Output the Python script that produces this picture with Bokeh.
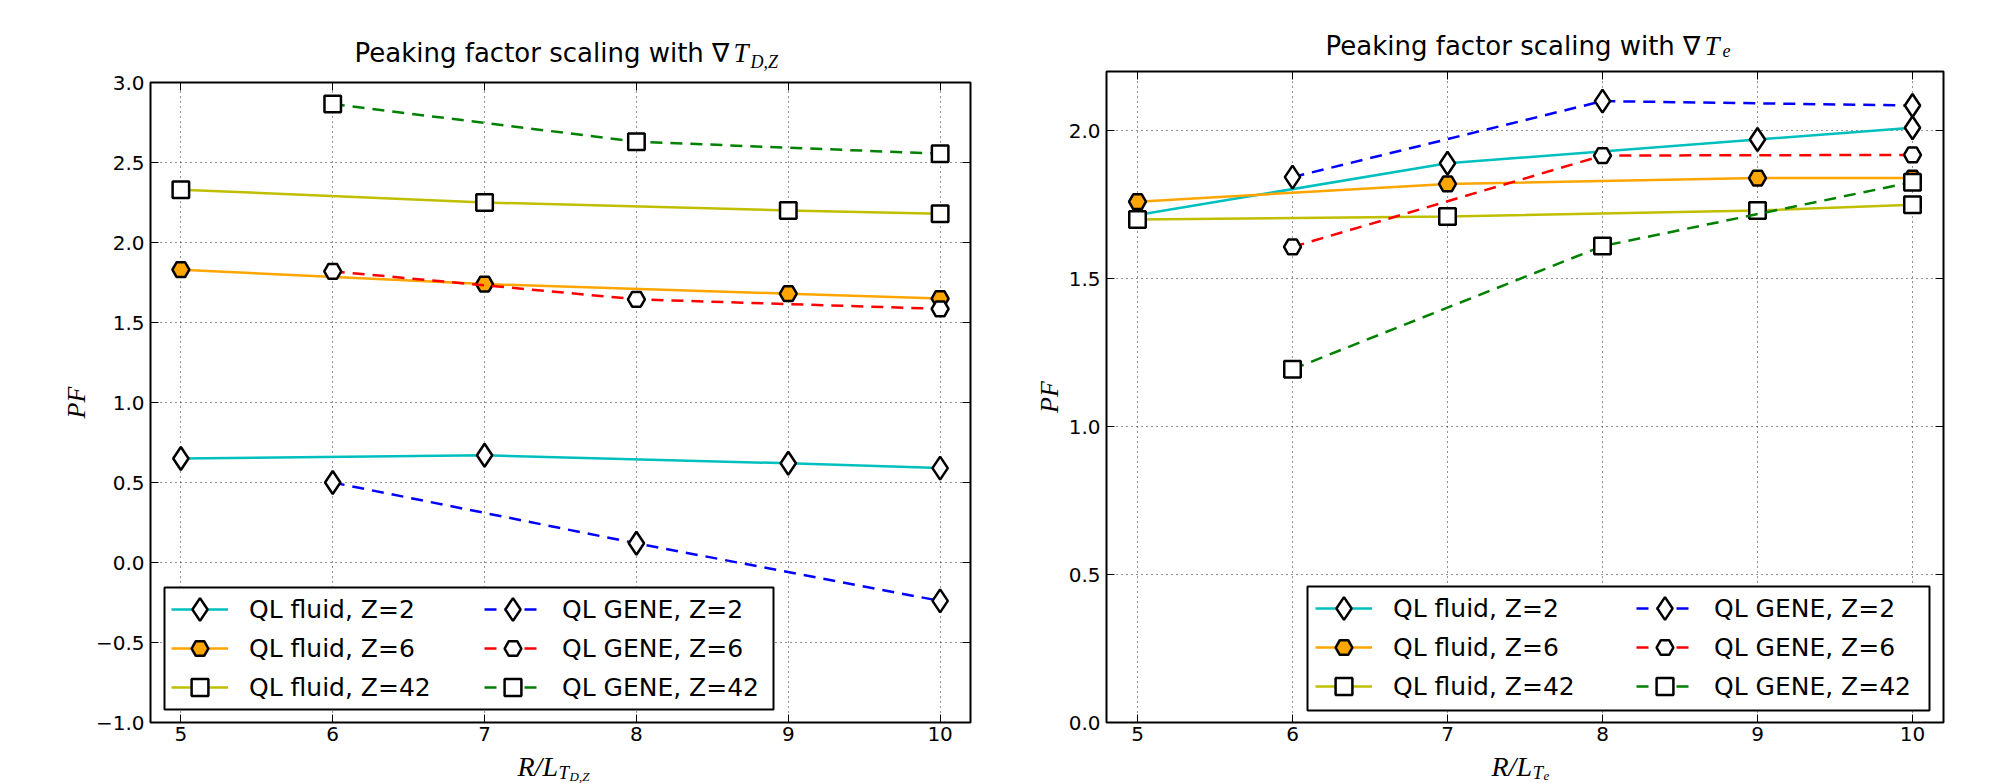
from bokeh.plotting import figure
from bokeh.layouts import row, column
from bokeh.models import (Range1d, FixedTicker, LinearAxis, Legend, LegendItem, Label,
                          BoxAnnotation, CustomJSTickFormatter)
from bokeh.embed import file_html
from bokeh.resources import INLINE

# ---------------- data ----------------
x_fluid = [5, 7, 9, 10]
x_gene = [6, 8, 10]
x_ticks = [5, 6, 7, 8, 9, 10]

# Panel 1: scaling with grad T_{D,Z}
tdz_fluid_z2 = [0.65, 0.67, 0.62, 0.59]
tdz_fluid_z6 = [1.83, 1.74, 1.68, 1.65]
tdz_fluid_z42 = [2.33, 2.25, 2.20, 2.18]
tdz_gene_z2 = [0.50, 0.12, -0.24]
tdz_gene_z6 = [1.82, 1.645, 1.585]
tdz_gene_z42 = [2.865, 2.63, 2.555]
tdz_yticks = [-1.0, -0.5, 0.0, 0.5, 1.0, 1.5, 2.0, 2.5, 3.0]

# Panel 2: scaling with grad T_e
te_fluid_z2 = [1.715, 1.89, 1.97, 2.01]
te_fluid_z6 = [1.76, 1.82, 1.84, 1.84]
te_fluid_z42 = [1.70, 1.71, 1.73, 1.75]
te_gene_z2 = [1.843, 2.10, 2.085]
te_gene_z6 = [1.607, 1.916, 1.918]
te_gene_z42 = [1.194, 1.61, 1.826]
te_yticks = [0.0, 0.5, 1.0, 1.5, 2.0]

series_labels = ["QL fluid, Z=2", "QL fluid, Z=6", "QL fluid, Z=42",
                 "QL GENE, Z=2", "QL GENE, Z=6", "QL GENE, Z=42"]

# ---------------- styles ----------------
STYLES = [
    dict(color="#00bfbf", dash="solid", marker="diamond", size=23, fill="white"),
    dict(color="#ffa500", dash="solid", marker="hex", size=17, fill="#ffa500"),
    dict(color="#bfbf00", dash="solid", marker="square", size=16.5, fill="white"),
    dict(color="#0000ff", dash="12 8", marker="diamond", size=23, fill="white"),
    dict(color="#ff0000", dash="12 8", marker="hex", size=17, fill="white"),
    dict(color="#008000", dash="12 8", marker="square", size=16.5, fill="white"),
]

SANS = "DejaVu Sans"
SERIF = "Liberation Serif"
BOTTOM = 28


def blank_axis(ticks):
    return LinearAxis(ticker=FixedTicker(ticks=ticks),
                      formatter=CustomJSTickFormatter(code="return ''"),
                      major_label_text_font_size="1px",
                      major_tick_in=8, major_tick_out=0,
                      minor_tick_line_color=None, axis_line_color=None,
                      major_tick_line_color="black", major_tick_line_width=1,
                      major_label_standoff=0)


def text_strip(width, height, bl, br, parts):
    t = figure(width=width, height=height, x_range=Range1d(0, 1), y_range=Range1d(0, 1),
               x_axis_type=None, y_axis_type=None, output_backend="svg",
               toolbar_location=None, min_border_left=bl, min_border_right=br,
               min_border_top=0, min_border_bottom=0)
    t.outline_line_color = None
    t.background_fill_color = "white"
    t.border_fill_color = "white"
    for (txt, x, y, font, size, style, align) in parts:
        t.add_layout(Label(x=x, y=y, x_units="screen", y_units="screen", text=txt,
                           text_font=font, text_font_size=size, text_font_style=style,
                           text_align=align, text_baseline="middle",
                           text_color="black"))
    return t


def make_panel(width, bl, br, frame_h, yr, yticks, fluid, gene, box, rows_y, col_x):
    p = figure(width=width, height=10 + frame_h + BOTTOM,
               x_range=Range1d(4.8, 10.2), y_range=Range1d(*yr),
               output_backend="svg", toolbar_location=None,
               min_border_left=bl, min_border_right=br, min_border_top=10,
               min_border_bottom=BOTTOM)
    p.background_fill_color = "white"
    p.border_fill_color = "white"
    p.outline_line_color = "black"
    p.outline_line_width = 2
    p.outline_line_alpha = 1

    p.xaxis.ticker = FixedTicker(ticks=x_ticks)
    p.yaxis.ticker = FixedTicker(ticks=yticks)
    p.yaxis.formatter = CustomJSTickFormatter(
        code="return tick.toFixed(1).replace('-', '\u2212')")
    for ax in (p.xaxis[0], p.yaxis[0]):
        ax.major_tick_in = 8
        ax.major_tick_out = 0
        ax.minor_tick_line_color = None
        ax.axis_line_color = None
        ax.major_tick_line_color = "black"
        ax.major_label_text_font = SANS
        ax.major_label_text_font_size = "20px"
        ax.major_label_text_color = "black"
    p.xaxis.major_label_standoff = 4
    p.yaxis.major_label_standoff = 6
    p.yaxis.axis_label = "PF"
    p.yaxis.axis_label_text_font = SERIF
    p.yaxis.axis_label_text_font_style = "italic"
    p.yaxis.axis_label_text_font_size = "26px"
    p.yaxis.axis_label_text_color = "black"
    p.yaxis.axis_label_standoff = 2

    p.add_layout(blank_axis(x_ticks), "above")
    p.add_layout(blank_axis(yticks), "right")

    for g in (p.xgrid[0], p.ygrid[0]):
        g.grid_line_color = "black"
        g.grid_line_alpha = 0.85
        g.grid_line_dash = "1 4"
        g.grid_line_width = 1

    renderers = []
    for i, ys in enumerate(fluid + gene):
        st = STYLES[i]
        xs = x_fluid if i < 3 else x_gene
        ln = p.line(xs, ys, line_color=st["color"], line_width=2.5, line_dash=st["dash"])
        sc = p.scatter(xs, ys, marker=st["marker"], size=st["size"], fill_color=st["fill"],
                       line_color="black", line_width=2.5)
        renderers.append((ln, sc))

    # legend frame
    bx0, bx1, by0, by1 = box
    p.add_layout(BoxAnnotation(left=bx0, right=bx1, bottom=by0, top=by1,
                               left_units="screen", right_units="screen",
                               bottom_units="screen", top_units="screen",
                               fill_color="white", fill_alpha=1,
                               line_color="black", line_width=2, line_alpha=1,
                               level="annotation"))
    for i, (ln, sc) in enumerate(renderers):
        st = STYLES[i]
        gh = 58 if st["marker"] == "diamond" else 42
        cy = rows_y[i % 3]
        cx = col_x[i // 3]
        lg = Legend(items=[LegendItem(label=series_labels[i], renderers=[ln, sc])],
                    location=(cx, cy - gh / 2), orientation="vertical",
                    glyph_width=57, glyph_height=gh, label_standoff=21,
                    padding=0, margin=0, spacing=0,
                    border_line_color=None, background_fill_alpha=0,
                    label_text_font=SANS, label_text_font_size="25px",
                    label_text_color="black")
        p.add_layout(lg, "center")
    return p


# ---- left column (frame x from 150 to 970) ----
t1 = text_strip(1024, 72, 150, 54, [
    ("Peaking factor scaling with \u2207", 579, 20, SANS, "26px", "normal", "right"),
    ("T", 583, 20, SERIF, "27px", "italic", "left"),
    ("D,Z", 600, 11, SERIF, "18px", "italic", "left")])
p1 = make_panel(1024, 150, 54, 640, (-1.0, 3.0), tdz_yticks,
                [tdz_fluid_z2, tdz_fluid_z6, tdz_fluid_z42],
                [tdz_gene_z2, tdz_gene_z6, tdz_gene_z42],
                (14, 623, 13, 135), [113, 74, 35], [21, 334])
x1 = text_strip(1024, 33, 150, 54, [
    ("R/L", 367, 17, SERIF, "28px", "italic", "left"),
    ("T", 408, 11.5, SERIF, "19px", "italic", "left"),
    ("D,Z", 419, 7.5, SERIF, "13px", "italic", "left")])

# ---- right column (frame x from 1106 to 1943) ----
t2 = text_strip(959, 61, 82, 40, [
    ("Peaking factor scaling with \u2207", 594, 16, SANS, "26px", "normal", "right"),
    ("T", 598, 16, SERIF, "27px", "italic", "left"),
    ("e", 616, 11, SERIF, "18px", "italic", "left")])
p2 = make_panel(959, 82, 40, 651, (0.0, 2.2), te_yticks,
                [te_fluid_z2, te_fluid_z6, te_fluid_z42],
                [te_gene_z2, te_gene_z6, te_gene_z42],
                (201, 823, 12, 136), [114, 75, 36], [209, 530])
x2 = text_strip(959, 33, 82, 40, [
    ("R/L", 385, 17, SERIF, "28px", "italic", "left"),
    ("T", 426, 11.5, SERIF, "19px", "italic", "left"),
    ("e", 437, 7.5, SERIF, "13px", "italic", "left")])

layout = row(column(t1, p1, x1, spacing=0), column(t2, p2, x2, spacing=0), spacing=0)
open("out.html", "w").write(file_html(layout, INLINE))
